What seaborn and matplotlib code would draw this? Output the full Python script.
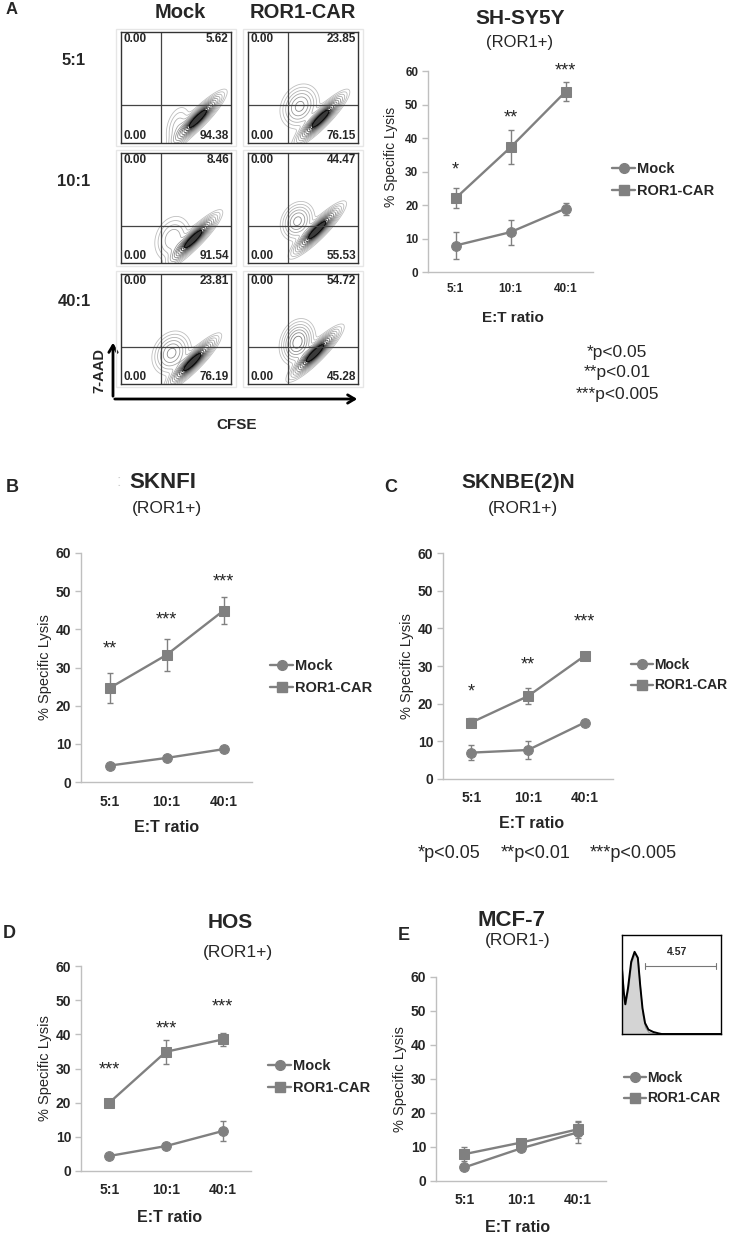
import numpy as np
import pandas as pd
import matplotlib
matplotlib.use('Agg')
import matplotlib.pyplot as plt
import seaborn as sns
from matplotlib.lines import Line2D
from matplotlib.patches import Rectangle, FancyArrowPatch

sns.set_style('white')
plt.rcParams['font.family'] = ['Liberation Sans', 'DejaVu Sans']

# ---- data ----
ratios = ['5:1', '10:1', '40:1']
series = ['Mock', 'ROR1-CAR']

shsy5y_mock = [7.9, 11.9, 18.9]
shsy5y_mock_err = [3.9, 3.7, 1.8]
shsy5y_car = [22.0, 37.2, 53.8]
shsy5y_car_err = [3.0, 5.1, 2.8]
shsy5y_stars = ['*', '**', '***']
shsy5y_star_y = [30.5, 45.9, 60.0]

sknfi_mock = [4.3, 6.3, 8.6]
sknfi_mock_err = [0.4, 0.5, 0.6]
sknfi_car = [24.6, 33.3, 44.9]
sknfi_car_err = [4.0, 4.1, 3.6]
sknfi_stars = ['**', '***', '***']
sknfi_star_y = [34.8, 42.4, 52.4]

sknbe_mock = [7.0, 7.7, 15.0]
sknbe_mock_err = [1.9, 2.4, 0.5]
sknbe_car = [15.0, 22.0, 32.7]
sknbe_car_err = [1.3, 2.2, 0.8]
sknbe_stars = ['*', '**', '***']
sknbe_star_y = [23.1, 30.2, 41.7]

hos_mock = [4.4, 7.3, 11.7]
hos_mock_err = [0.4, 0.8, 3.0]
hos_car = [20.0, 34.9, 38.5]
hos_car_err = [0.6, 3.5, 1.9]
hos_stars = ['***', '***', '***']
hos_star_y = [29.5, 41.7, 48.1]

mcf7_mock = [4.0, 9.6, 14.3]
mcf7_mock_err = [0.5, 0.6, 3.0]
mcf7_car = [7.9, 11.3, 15.2]
mcf7_car_err = [2.0, 0.8, 2.5]

# flow quadrant percentages (upper right, lower right), rows = ratios
flow_mock_ur = ['5.62', '8.46', '23.81']
flow_mock_lr = ['94.38', '91.54', '76.19']
flow_car_ur = ['23.85', '44.47', '54.72']
flow_car_lr = ['76.15', '55.53', '45.28']

# contour shapes: (cx, cy, sx, sy, rho, weight) per population
flow_mock_pops = [
    [(0.70, 0.22, 0.095, 0.095, 0.9, 1.0), (0.52, 0.14, 0.06, 0.10, 0.3, 0.10)],
    [(0.66, 0.22, 0.095, 0.095, 0.9, 1.0), (0.47, 0.22, 0.08, 0.10, 0.2, 0.16)],
    [(0.65, 0.20, 0.095, 0.095, 0.9, 1.0), (0.46, 0.28, 0.08, 0.09, 0.2, 0.25)],
]
flow_car_pops = [
    [(0.66, 0.22, 0.095, 0.095, 0.9, 1.0), (0.47, 0.33, 0.08, 0.09, 0.2, 0.25)],
    [(0.63, 0.30, 0.095, 0.095, 0.9, 1.0), (0.45, 0.38, 0.07, 0.08, 0.2, 0.25)],
    [(0.61, 0.28, 0.095, 0.095, 0.9, 1.0), (0.45, 0.38, 0.07, 0.09, 0.2, 0.35)],
]

# MCF-7 ROR1 histogram inset (fraction of x range, fraction of height)
hist_x = [0.0, 0.017, 0.033, 0.06, 0.093, 0.127, 0.16, 0.183, 0.207, 0.233, 0.267, 0.317, 0.367, 0.4, 1.0]
hist_stain = [0.66, 0.43, 0.30, 0.46, 0.73, 0.83, 0.77, 0.50, 0.26, 0.11, 0.044, 0.02, 0.007, 0.0, 0.0]
hist_ctrl = [0.64, 0.42, 0.30, 0.45, 0.72, 0.82, 0.75, 0.46, 0.20, 0.07, 0.02, 0.008, 0.0, 0.0, 0.0]

grey = '#808080'
spine_c = '#bfbfbf'
W, H = 732, 1234
fig = plt.figure(figsize=(W / 100, H / 100), dpi=100)


def fx(px):
    return px / W


def fy(py):
    return 1 - py / H


def box(x0, y0, x1, y1):
    return [fx(x0), fy(y1), (x1 - x0) / W, (y1 - y0) / H]


def txt(x, y, s, size, bold=False, **kw):
    fig.text(fx(x), fy(y), s, fontsize=size, fontweight='bold' if bold else 'normal',
             ha=kw.pop('ha', 'center'), va=kw.pop('va', 'center'), **kw)


def lysis_panel(rect, mock, mock_err, car, car_err, stars, star_y, leg_x, leg_y,
                fs=10, lab_fs=10.5, pad=9, leg_fs=10.5):
    ax = fig.add_axes(box(*rect))
    pos = [0, 1, 2]
    df = pd.DataFrame({'pos': pos * 2, 'lysis': mock + car,
                       'series': ['Mock'] * 3 + ['ROR1-CAR'] * 3})
    ax.errorbar(pos, mock, yerr=mock_err, fmt='none', ecolor=grey, elinewidth=1,
                capsize=2.3, capthick=1)
    ax.errorbar(pos, car, yerr=car_err, fmt='none', ecolor=grey, elinewidth=1,
                capsize=2.3, capthick=1)
    sns.lineplot(data=df, x='pos', y='lysis', hue='series', style='series',
                 markers={'Mock': 'o', 'ROR1-CAR': 's'}, dashes=False,
                 palette={'Mock': grey, 'ROR1-CAR': grey}, markersize=7,
                 markeredgecolor=grey, linewidth=1.7, legend=False, ax=ax)
    if stars:
        for p, s, y in zip(pos, stars, star_y):
            ax.text(p, y, s, ha='center', va='center', fontsize=13)
    ax.set_xlim(-0.5, 2.5)
    ax.set_ylim(0, 60)
    ax.set_xticks([-0.5, 0.5, 1.5, 2.5])
    ax.set_xticklabels([])
    ax.set_xticks(pos, minor=True)
    ax.set_xticklabels(ratios, minor=True, fontsize=fs, fontweight='bold')
    ax.tick_params(axis='x', which='minor', length=0, pad=pad)
    ax.tick_params(axis='x', which='major', length=4, color=spine_c, width=1)
    ax.set_yticks(range(0, 61, 10))
    ax.set_yticklabels([str(v) for v in range(0, 61, 10)], fontsize=fs, fontweight='bold')
    ax.tick_params(axis='y', length=4, color=spine_c, width=1, pad=3, left=True)
    for side in ['top', 'right']:
        ax.spines[side].set_visible(False)
    for side in ['left', 'bottom']:
        ax.spines[side].set_color(spine_c)
        ax.spines[side].set_linewidth(1)
    ax.set_xlabel('')
    ax.set_ylabel('% Specific Lysis', fontsize=lab_fs, labelpad=3)
    handles = [Line2D([], [], color=grey, marker='o', markersize=7, lw=1.7),
               Line2D([], [], color=grey, marker='s', markersize=7, lw=1.7)]
    ax.legend(handles, series, loc='center left', bbox_to_anchor=(fx(leg_x), fy(leg_y)),
              bbox_transform=fig.transFigure, frameon=False, handlelength=1.6,
              handletextpad=0.1, borderpad=0, borderaxespad=0, labelspacing=0.5,
              prop={'weight': 'bold', 'size': leg_fs})
    return ax


def flow_plot(rect, pops, ur, lr):
    x0, y0, x1, y1 = rect
    fig.patches.append(Rectangle((fx(x0 - 5), fy(y1 + 3)), (x1 - x0 + 10) / W,
                                 (y1 - y0 + 6) / H, transform=fig.transFigure,
                                 fill=False, edgecolor='#e6e6e6', lw=1))
    ax = fig.add_axes(box(*rect))
    g = np.linspace(0, 1, 240)
    X, Y = np.meshgrid(g, g)
    Z = np.zeros_like(X)
    for cx, cy, sx, sy, rho, w in pops:
        dx = (X - cx) / sx
        dy = (Y - cy) / sy
        Z += w * np.exp(-(dx ** 2 - 2 * rho * dx * dy + dy ** 2) / (2 * (1 - rho ** 2)))
    mx = Z.max()
    levels = mx * np.array([0.02, 0.04, 0.07, 0.11, 0.16, 0.22, 0.29, 0.37, 0.46,
                            0.55, 0.64, 0.72])
    ax.contourf(X, Y, Z, levels=[0.72 * mx, 1.01 * mx], colors=['#3a3a3a'])
    ax.contour(X, Y, Z, levels=levels, cmap='Greys', vmin=-0.4 * mx, vmax=0.75 * mx,
               linewidths=0.6)
    ax.axvline(0.36, color='#444444', lw=0.9)
    ax.axhline(0.34, color='#444444', lw=0.9)
    ax.set_xlim(0, 1)
    ax.set_ylim(0, 1)
    ax.set_xticks([])
    ax.set_yticks([])
    for sp in ax.spines.values():
        sp.set_color('#333333')
        sp.set_linewidth(1)
    kw = dict(fontsize=8.5, fontweight='bold', transform=ax.transAxes)
    ax.text(0.02, 0.99, '0.00', ha='left', va='top', **kw)
    ax.text(0.98, 0.99, ur, ha='right', va='top', **kw)
    ax.text(0.02, 0.01, '0.00', ha='left', va='bottom', **kw)
    ax.text(0.98, 0.01, lr, ha='right', va='bottom', **kw)


# ---- panel A ----
txt(12, 10, 'A', 12, True)
txt(180, 13, 'Mock', 14.5, True)
txt(303, 13, 'ROR1-CAR', 14.5, True)
row_y = [(32, 143), (153, 263), (274, 384)]
for i, (ya, yb) in enumerate(row_y):
    txt(74, (ya + yb) / 2 - 27, ratios[i], 12, True)
    flow_plot((121, ya, 231, yb), flow_mock_pops[i], flow_mock_ur[i], flow_mock_lr[i])
    flow_plot((248, ya, 358, yb), flow_car_pops[i], flow_car_ur[i], flow_car_lr[i])

fig.add_artist(FancyArrowPatch((fx(113), fy(399)), (fx(113), fy(340)),
               transform=fig.transFigure, arrowstyle='->,head_length=5,head_width=3',
               lw=2, color='black'))
fig.add_artist(FancyArrowPatch((fx(112), fy(399)), (fx(360), fy(399)),
               transform=fig.transFigure, arrowstyle='->,head_length=5,head_width=3',
               lw=2, color='black'))
txt(99, 370, '7-AAD', 10.5, True, rotation=90)
txt(237, 425, 'CFSE', 11, True)

axA = lysis_panel((428, 71, 593, 272), shsy5y_mock, shsy5y_mock_err, shsy5y_car,
                  shsy5y_car_err, shsy5y_stars, shsy5y_star_y, 612, 180,
                  fs=8.5, lab_fs=10, pad=8, leg_fs=10.5)
axA.yaxis.set_label_coords(-0.18, 0.57)
txt(520, 18, 'SH-SY5Y', 15, True)
txt(520, 42, '(ROR1+)', 12)
txt(513, 318, 'E:T ratio', 11, True)
txt(617, 352, '*p<0.05', 12.5)
txt(617, 373, '**p<0.01', 12.5)
txt(617, 395, '***p<0.005', 12.5)

# ---- panel B ----
lysis_panel((81, 553, 252, 782), sknfi_mock, sknfi_mock_err, sknfi_car, sknfi_car_err,
            sknfi_stars, sknfi_star_y, 270, 677)
txt(12, 488, 'B', 13, True)
txt(119, 482, ':', 12, color='#d0d0d0')
txt(163, 482, 'SKNFI', 16, True)
txt(167, 509, '(ROR1+)', 12.5)
txt(167, 828, 'E:T ratio', 11.5, True)

# ---- panel C ----
lysis_panel((443, 553, 613, 779), sknbe_mock, sknbe_mock_err, sknbe_car, sknbe_car_err,
            sknbe_stars, sknbe_star_y, 631, 675, leg_fs=10)
txt(391, 488, 'C', 13, True)
txt(518, 482, 'SKNBE(2)N', 15, True)
txt(523, 508, '(ROR1+)', 12.5)
txt(532, 823, 'E:T ratio', 11.5, True)
txt(449, 854, '*p<0.05', 13)
txt(536, 854, '**p<0.01', 13)
txt(633, 854, '***p<0.005', 13)

# ---- panel D ----
lysis_panel((81, 966, 251, 1171), hos_mock, hos_mock_err, hos_car, hos_car_err,
            hos_stars, hos_star_y, 268, 1077)
txt(9, 934, 'D', 13, True)
txt(230, 923, 'HOS', 15, True)
txt(238, 953, '(ROR1+)', 12.5)
txt(170, 1218, 'E:T ratio', 11.5, True)

# ---- panel E ----
lysis_panel((436, 977, 606, 1181), mcf7_mock, mcf7_mock_err, mcf7_car, mcf7_car_err,
            None, None, 624, 1088, leg_fs=10)
txt(404, 935, 'E', 13, True)
txt(511, 920, 'MCF-7', 16, True)
txt(518, 940, '(ROR1-)', 12.5)
txt(518, 1227, 'E:T ratio', 11.5, True)

ins = fig.add_axes(box(622, 935, 721, 1034))
ins.fill_between(hist_x, hist_ctrl, color='#d4d4d4', edgecolor='#999999', lw=0.8)
sns.lineplot(x=hist_x, y=hist_stain, color='black', lw=1.4, ax=ins)
ins.plot([0.233, 0.95], [0.69, 0.69], color='#777777', lw=0.8)
ins.plot([0.233, 0.233], [0.66, 0.72], color='#777777', lw=0.8)
ins.plot([0.95, 0.95], [0.66, 0.72], color='#777777', lw=0.8)
ins.text(0.56, 0.83, '4.57', ha='center', va='center', fontsize=7.5, fontweight='bold',
         transform=ins.transAxes)
ins.set_xlim(0, 1)
ins.set_ylim(0, 1)
ins.set_xticks([])
ins.set_yticks([])
for sp in ins.spines.values():
    sp.set_color('black')
    sp.set_linewidth(1)

fig.savefig('out.png', dpi=100)
